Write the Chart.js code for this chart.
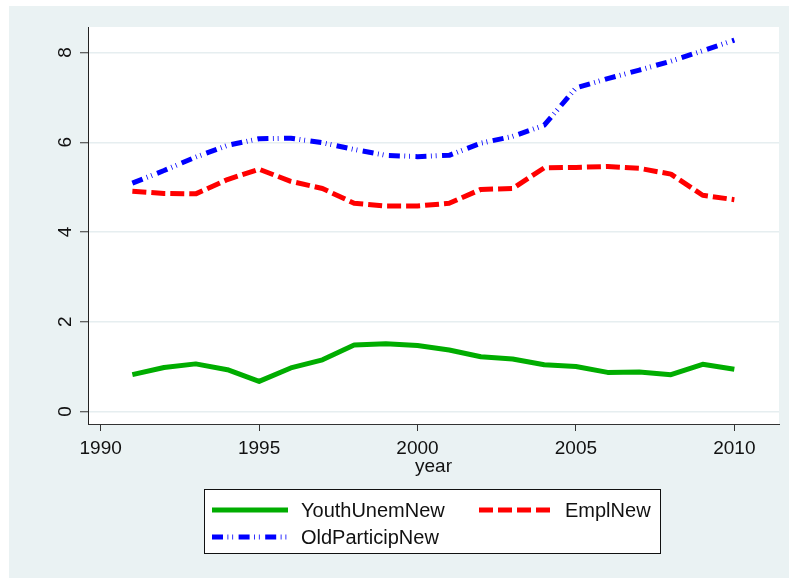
<!DOCTYPE html>
<html>
<head>
<meta charset="utf-8">
<script src="https://cdn.jsdelivr.net/npm/chart.js@4/dist/chart.umd.min.js"></script>
<style>
  html, body { margin: 0; padding: 0; background: #ffffff; }
  #wrap { position: absolute; left: 9px; top: 6px; width: 780px; height: 572px; background: #eaf2f3; }
  canvas { display: block; }
</style>
</head>
<body>
<div id="wrap"><canvas id="c" width="780" height="572"></canvas></div>
<script>
// Series by year
const years = [1991, 1992, 1993, 1994, 1995, 1996, 1997, 1998, 1999, 2000,
               2001, 2002, 2003, 2004, 2005, 2006, 2007, 2008, 2009, 2010];
const youthUnemNew = [0.82, 0.98, 1.06, 0.93, 0.67, 0.97, 1.15, 1.48, 1.51, 1.47,
                      1.37, 1.22, 1.17, 1.04, 1.00, 0.87, 0.88, 0.82, 1.05, 0.94];
const emplNew = [4.91, 4.86, 4.85, 5.17, 5.40, 5.13, 4.97, 4.64, 4.58, 4.58,
                 4.64, 4.95, 4.97, 5.43, 5.44, 5.46, 5.42, 5.29, 4.82, 4.72];
const oldParticipNew = [5.09, 5.37, 5.67, 5.93, 6.08, 6.09, 5.99, 5.84, 5.71, 5.68,
                        5.71, 5.98, 6.13, 6.38, 7.21, 7.42, 7.61, 7.81, 8.04, 8.28];

const seriesNames = ['YouthUnemNew', 'EmplNew', 'OldParticipNew'];
const xTicks = [1990, 1995, 2000, 2005, 2010];
const yTicks = [0, 2, 4, 6, 8];
const xTitle = 'year';

const FONT = "'Liberation Sans', Arial, sans-serif";

function pts(values) {
  return years.map((y, i) => ({ x: y, y: values[i] }));
}

// White plot region
const plotBackground = {
  id: 'plotBackground',
  beforeDraw(chart) {
    const { ctx, chartArea: a } = chart;
    ctx.save();
    ctx.fillStyle = '#ffffff';
    ctx.fillRect(a.left, a.top, a.right - a.left, a.bottom - a.top);
    ctx.restore();
  }
};

// Boxed two-column legend under the axis title
const boxLegend = {
  id: 'boxLegend',
  afterDraw(chart) {
    const ctx = chart.ctx;
    const box = { x: 195.5, y: 483.5, w: 456, h: 64 };
    const rows = [504, 531];
    const cols = [{ s: 203, e: 279, t: 292 }, { s: 470, e: 544, t: 556 }];
    ctx.save();
    ctx.fillStyle = '#ffffff';
    ctx.fillRect(box.x, box.y, box.w, box.h);
    ctx.strokeStyle = '#111111';
    ctx.lineWidth = 1;
    ctx.strokeRect(box.x, box.y, box.w, box.h);
    chart.data.datasets.forEach((ds, i) => {
      const r = rows[Math.floor(i / 2)];
      const c = cols[i % 2];
      ctx.beginPath();
      ctx.setLineDash(ds.borderDash || []);
      ctx.lineWidth = ds.borderWidth;
      ctx.strokeStyle = ds.borderColor;
      ctx.lineCap = 'butt';
      ctx.moveTo(c.s, r);
      ctx.lineTo(c.e, r);
      ctx.stroke();
      ctx.setLineDash([]);
      ctx.fillStyle = '#111111';
      ctx.font = '20px ' + FONT;
      ctx.textBaseline = 'middle';
      ctx.textAlign = 'left';
      ctx.fillText(ds.label, c.t, r + 1);
    });
    ctx.restore();
  }
};

new Chart(document.getElementById('c'), {
  type: 'line',
  data: {
    datasets: [
      { label: seriesNames[0], data: pts(youthUnemNew), borderColor: '#00ad00',
        borderWidth: 5, borderDash: [], order: 3 },
      { label: seriesNames[1], data: pts(emplNew), borderColor: '#ff0000',
        borderWidth: 5, borderDash: [14, 5], order: 2 },
      { label: seriesNames[2], data: pts(oldParticipNew), borderColor: '#0000ff',
        borderWidth: 5, borderDash: [11, 4.5, 0.8, 4, 0.8, 5.5], order: 1 }
    ]
  },
  options: {
    responsive: false,
    animation: false,
    devicePixelRatio: 1,
    layout: { padding: { left: 0, top: 21, right: 10, bottom: 0 } },
    elements: {
      point: { radius: 0, hoverRadius: 0 },
      line: { tension: 0, borderJoinStyle: 'round', borderCapStyle: 'butt', fill: false }
    },
    plugins: {
      legend: { display: false },
      tooltip: { enabled: false }
    },
    scales: {
      x: {
        type: 'linear',
        min: 1989.6,
        max: 2011.41,
        afterFit(s) { s.height = 154; },
        afterBuildTicks(s) { s.ticks = xTicks.map(v => ({ value: v })); },
        grid: { display: true, drawOnChartArea: false, drawTicks: true,
                tickLength: 7, tickColor: '#333333', tickWidth: 1 },
        border: { display: true, color: '#333333', width: 1 },
        ticks: {
          autoSkip: false, maxRotation: 0, minRotation: 0, padding: 6,
          color: '#111111', font: { family: FONT, size: 19 },
          callback: v => String(v)
        },
        title: {
          display: true, text: xTitle, color: '#111111',
          font: { family: FONT, size: 19 },
          padding: { top: 0, bottom: 100 }
        }
      },
      y: {
        type: 'linear',
        min: -0.28,
        max: 8.57,
        afterFit(s) { s.width = 79; },
        afterBuildTicks(s) { s.ticks = yTicks.map(v => ({ value: v })); },
        grid: { display: true, drawOnChartArea: true, drawTicks: true,
                color: '#e6eef0', lineWidth: 1.5,
                tickLength: 8, tickColor: '#333333', tickWidth: 1 },
        border: { display: true, color: '#222222', width: 1 },
        ticks: {
          minRotation: 90, maxRotation: 90, crossAlign: 'center', padding: 9,
          color: '#111111', font: { family: FONT, size: 19 },
          callback: v => String(v)
        }
      }
    }
  },
  plugins: [plotBackground, boxLegend]
});
</script>
</body>
</html>
